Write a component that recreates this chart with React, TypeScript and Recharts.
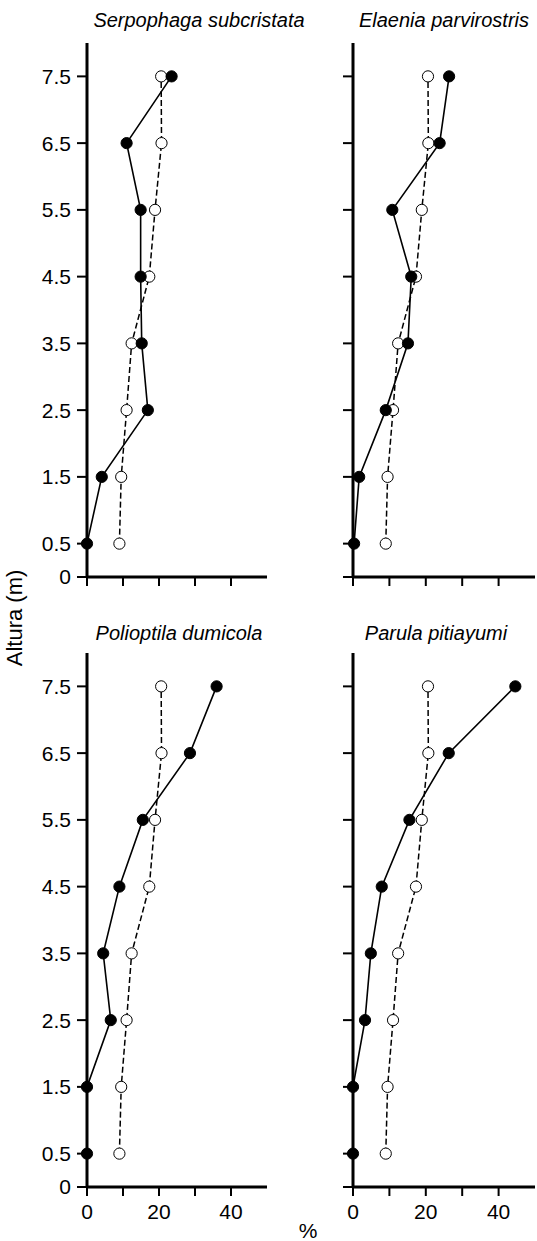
import { Scatter, ScatterChart, XAxis, YAxis } from 'recharts';

const HEIGHTS = [0.5, 1.5, 2.5, 3.5, 4.5, 5.5, 6.5, 7.5];
const Y_TICKS = [0, 0.5, 1.5, 2.5, 3.5, 4.5, 5.5, 6.5, 7.5];
const X_TICKS = [0, 10, 20, 30, 40];

// open circles, dashed line (same in every panel)
const HABITAT = [9, 9.5, 11, 12.4, 17.3, 18.9, 20.7, 20.6];

const SERPOPHAGA = [0, 4.1, 16.9, 15.2, 14.9, 14.9, 11, 23.5];
const ELAENIA = [0.3, 1.7, 9, 15.1, 16, 10.8, 23.8, 26.4];
const POLIOPTILA = [0, 0, 6.6, 4.5, 9, 15.5, 28.6, 36];
const PARULA = [0, 0, 3.3, 4.9, 7.9, 15.5, 26.3, 44.6];

const FONT = '"Liberation Sans", Arial, sans-serif';

const toPoints = (vals: number[]) => vals.map((x, i) => ({ x, y: HEIGHTS[i] }));

function Dot(props: any, filled: boolean) {
  return (
    <circle
      cx={props.cx}
      cy={props.cy}
      r={5.6}
      fill={filled ? '#000' : '#fff'}
      stroke="#000"
      strokeWidth={1}
    />
  );
}

type PanelProps = {
  title: string;
  values: number[];
  left: number;
  top: number;
  width: number;
  yAxisWidth: number;
  marginRight: number;
  titleX: number;
  titleY: number;
  yLabels: boolean;
  xLabels: boolean;
};

function Panel(p: PanelProps) {
  return (
    <div style={{ position: 'absolute', left: p.left, top: p.top }}>
      <ScatterChart
        width={p.width}
        height={617}
        margin={{ top: 43, right: p.marginRight, bottom: 0, left: 0 }}
      >
        <XAxis
          type="number"
          dataKey="x"
          domain={[0, 50]}
          ticks={X_TICKS}
          height={40}
          axisLine={{ stroke: '#000', strokeWidth: 3 }}
          tickLine={{ stroke: '#000', strokeWidth: 2 }}
          tickSize={9}
          tickMargin={8}
          tick={{ fontSize: 21, fill: '#000', fontFamily: FONT }}
          tickFormatter={(v: number) => (p.xLabels && v % 20 === 0 ? String(v) : '')}
        />
        <YAxis
          type="number"
          dataKey="y"
          domain={[0, 8]}
          ticks={Y_TICKS}
          width={p.yAxisWidth}
          axisLine={{ stroke: '#000', strokeWidth: 3 }}
          tickLine={{ stroke: '#000', strokeWidth: 2 }}
          tickSize={10}
          tickMargin={6}
          tick={{ fontSize: 21, fill: '#000', fontFamily: FONT }}
          tickFormatter={(v: number) => (p.yLabels ? String(v) : '')}
        />
        <Scatter
          data={toPoints(HABITAT)}
          line={{ stroke: '#000', strokeWidth: 1.5, strokeDasharray: '6 3' }}
          shape={(s: any) => Dot(s, false)}
          isAnimationActive={false}
        />
        <Scatter
          data={toPoints(p.values)}
          line={{ stroke: '#000', strokeWidth: 1.6 }}
          shape={(s: any) => Dot(s, true)}
          isAnimationActive={false}
        />
      </ScatterChart>
      <div
        style={{
          position: 'absolute',
          left: p.titleX - p.left - 150,
          top: p.titleY - p.top - 12,
          width: 300,
          textAlign: 'center',
          fontFamily: FONT,
          fontStyle: 'italic',
          fontSize: 20,
          lineHeight: '24px',
          whiteSpace: 'nowrap',
        }}
      >
        {p.title}
      </div>
    </div>
  );
}

export default function App() {
  return (
    <div
      style={{
        position: 'absolute',
        left: 0,
        top: 0,
        width: 537,
        height: 1241,
        background: '#fff',
        overflow: 'hidden',
        fontFamily: FONT,
      }}
    >
      <Panel
        title="Serpophaga subcristata"
        values={SERPOPHAGA}
        left={0}
        top={0}
        width={270}
        yAxisWidth={87}
        marginRight={3}
        titleX={199}
        titleY={20}
        yLabels
        xLabels={false}
      />
      <Panel
        title="Elaenia parvirostris"
        values={ELAENIA}
        left={270}
        top={0}
        width={267}
        yAxisWidth={83}
        marginRight={2}
        titleX={444}
        titleY={20}
        yLabels={false}
        xLabels={false}
      />
      <Panel
        title="Polioptila dumicola"
        values={POLIOPTILA}
        left={0}
        top={610}
        width={270}
        yAxisWidth={87}
        marginRight={3}
        titleX={179}
        titleY={633}
        yLabels
        xLabels
      />
      <Panel
        title="Parula pitiayumi"
        values={PARULA}
        left={270}
        top={610}
        width={267}
        yAxisWidth={83}
        marginRight={2}
        titleX={436}
        titleY={633}
        yLabels={false}
        xLabels
      />
      <div
        style={{
          position: 'absolute',
          left: 15 - 80,
          top: 618 - 13,
          width: 160,
          height: 26,
          lineHeight: '26px',
          textAlign: 'center',
          fontSize: 22,
          transform: 'rotate(-90deg)',
        }}
      >
        Altura (m)
      </div>
      <div
        style={{
          position: 'absolute',
          left: 308 - 20,
          top: 1231 - 13,
          width: 40,
          lineHeight: '26px',
          textAlign: 'center',
          fontSize: 21,
        }}
      >
        %
      </div>
    </div>
  );
}
